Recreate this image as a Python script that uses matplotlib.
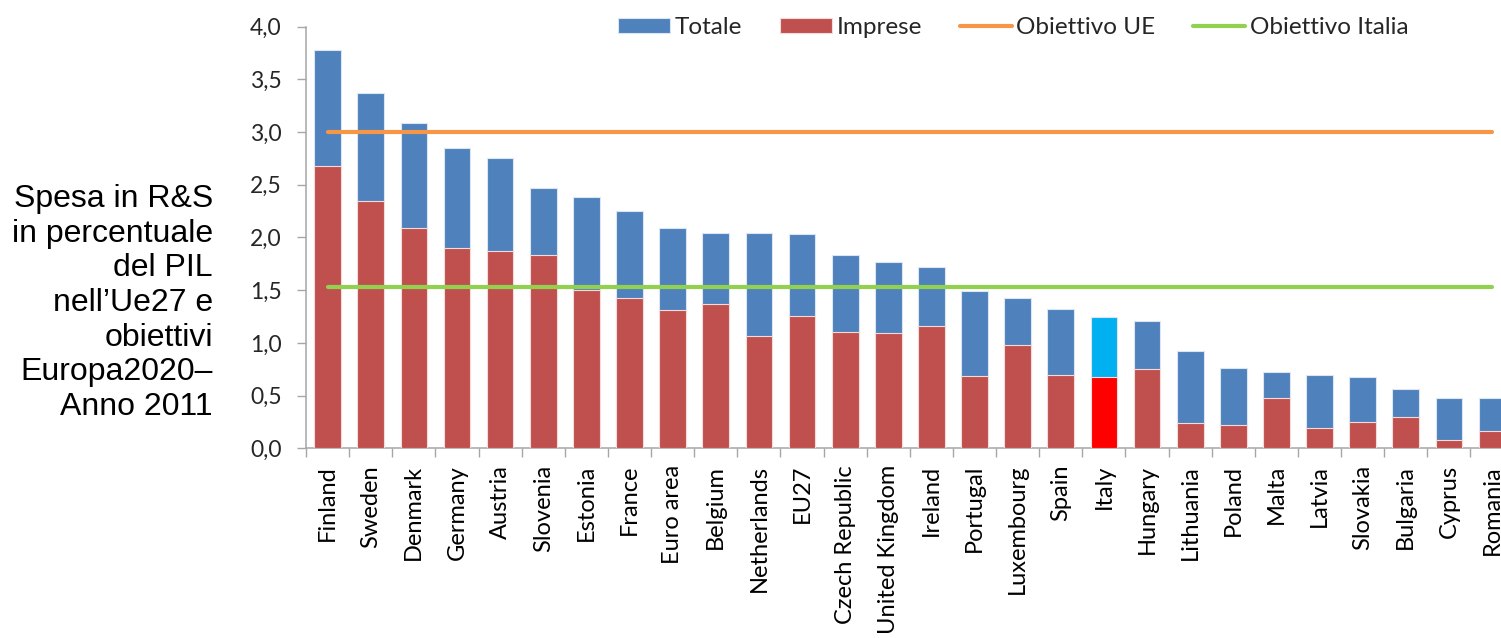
import matplotlib.pyplot as plt
from matplotlib.ticker import FixedLocator, FuncFormatter

# Spesa in R&S in % del PIL, anno 2011
paesi = ["Finland", "Sweden", "Denmark", "Germany", "Austria", "Slovenia",
         "Estonia", "France", "Euro area", "Belgium", "Netherlands", "EU27",
         "Czech Republic", "United Kingdom", "Ireland", "Portugal",
         "Luxembourg", "Spain", "Italy", "Hungary", "Lithuania", "Poland",
         "Malta", "Latvia", "Slovakia", "Bulgaria", "Cyprus", "Romania"]
totale = [3.78, 3.37, 3.09, 2.85, 2.75, 2.47, 2.38, 2.25, 2.09, 2.04, 2.04,
          2.03, 1.83, 1.77, 1.72, 1.49, 1.43, 1.32, 1.25, 1.21, 0.92, 0.76,
          0.72, 0.70, 0.68, 0.56, 0.48, 0.48]
imprese = [2.68, 2.35, 2.09, 1.90, 1.87, 1.83, 1.50, 1.43, 1.31, 1.37, 1.07,
           1.26, 1.10, 1.09, 1.16, 0.69, 0.98, 0.70, 0.68, 0.75, 0.24, 0.22,
           0.48, 0.19, 0.25, 0.30, 0.08, 0.16]
obiettivo_ue = 3.0
obiettivo_italia = 1.53

# colori (Italia evidenziata)
BLU, ROSSO = "#4F81BD", "#C0504D"
col_tot = ["#00B0F0" if p == "Italy" else BLU for p in paesi]
col_imp = ["#FF0000" if p == "Italy" else ROSSO for p in paesi]

fig = plt.figure(figsize=(15.01, 6.38), dpi=100)
ax = fig.add_axes([0.2039, 0.2973, 0.8045, 0.6609])

x = list(range(len(paesi)))
b_tot = ax.bar(x, totale, width=0.62, color=col_tot, edgecolor="#dce6f2",
               linewidth=0.8, label="Totale", zorder=2)
b_imp = ax.bar(x, imprese, width=0.62, color=col_imp, edgecolor="#f2dcdb",
               linewidth=0.8, label="Imprese", zorder=3)

# obiettivi Europa 2020
l_ue, = ax.plot([x[0], x[-1]], [obiettivo_ue] * 2, color="#F79646", lw=3,
                solid_capstyle="round", label="Obiettivo UE", zorder=4)
l_it, = ax.plot([x[0], x[-1]], [obiettivo_italia] * 2, color="#92D050", lw=3,
                solid_capstyle="round", label="Obiettivo Italia", zorder=4)

ax.set_xlim(-0.5, len(paesi) - 0.5)
ax.set_ylim(0, 4.0)

# assi in stile Excel
for s in ["top", "right"]:
    ax.spines[s].set_visible(False)
for s in ["left", "bottom"]:
    ax.spines[s].set_color("#A6A6A6")
    ax.spines[s].set_linewidth(1.1)

ax.set_yticks([i * 0.5 for i in range(9)])
ax.yaxis.set_major_formatter(FuncFormatter(lambda v, p: f"{v:.1f}".replace(".", ",")))
ax.tick_params(axis="y", length=6.5, width=1, color="#A6A6A6", pad=11,
               labelsize=16.5, labelcolor="#262626")
for t in ax.get_yticklabels():
    t.set_family("Lato")

ax.set_xticks(x)
ax.set_xticklabels(paesi, rotation=90, family="Lato", fontsize=17,
                   color="#000000")
ax.tick_params(axis="x", which="major", length=0, pad=12)
ax.xaxis.set_minor_locator(FixedLocator([i - 0.5 for i in range(len(paesi) + 1)]))
ax.tick_params(axis="x", which="minor", length=6.5, width=1, color="#A6A6A6")

# legenda in alto
fig.legend([b_tot, b_imp, l_ue, l_it],
           ["Totale", "Imprese", "Obiettivo UE", "Obiettivo Italia"],
           loc="center", bbox_to_anchor=(0.675, 0.957), ncol=4, frameon=False,
           prop={"family": "Lato", "size": 17.5}, labelcolor="#262626",
           handlelength=2.14, handleheight=0.62, handletextpad=0.2,
           columnspacing=1.55, borderaxespad=0)

# titolo dell'asse a sinistra
fig.text(213 / 1501, 1 - 303 / 638,
         "Spesa in R&S\nin percentuale\ndel PIL\nnell\u2019Ue27 e\nobiettivi\nEuropa2020\u2013\nAnno 2011",
         ha="right", va="center", multialignment="right",
         family="Liberation Sans", fontsize=23, linespacing=1.2)

plt.savefig("out.png", dpi=100)
